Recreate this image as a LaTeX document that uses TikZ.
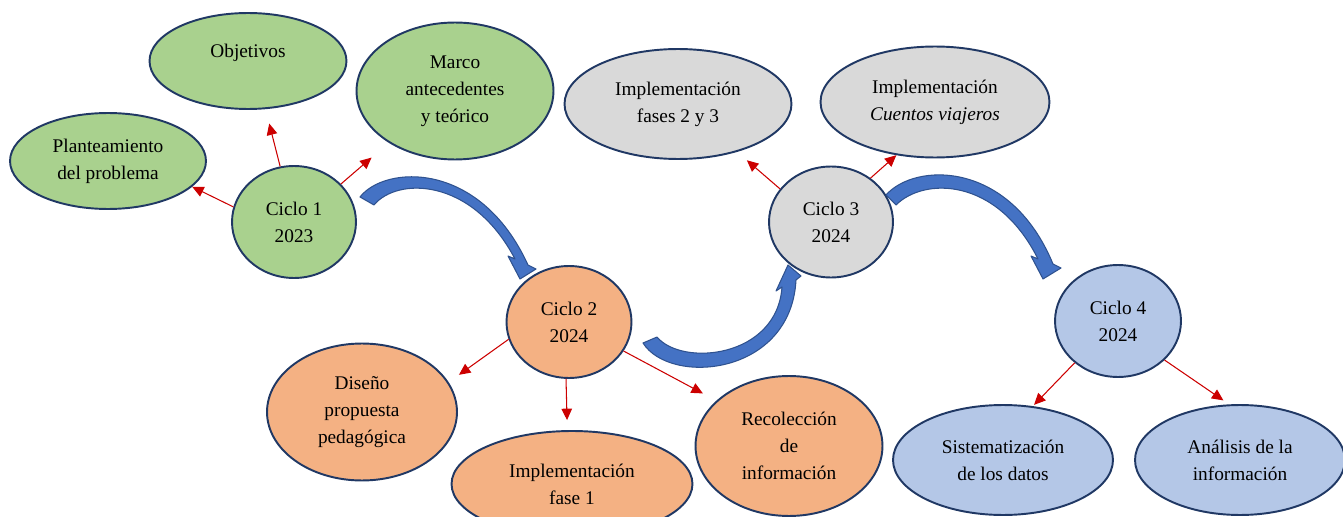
\documentclass[tikz,border=0pt]{standalone}
\usepackage{fontspec}
\setmainfont{Liberation Serif}
\usepackage{tikz}
\usetikzlibrary{arrows.meta,shapes.geometric}

\definecolor{ciclogreen}{HTML}{A9D18E}
\definecolor{cicloorange}{HTML}{F4B183}
\definecolor{ciclogrey}{HTML}{D9D9D9}
\definecolor{cicloblue}{HTML}{B4C7E7}
\definecolor{outline}{HTML}{203864}
\definecolor{arrowred}{HTML}{CC0000}
\definecolor{bendblue}{HTML}{4472C4}
\definecolor{bendedge}{HTML}{2F528F}

\tikzset{
  bubble/.style={ellipse, draw=outline, line width=1.1pt, inner sep=0pt,
    align=center, font=\fontsize{11}{15.3}\selectfont},
  link/.style={draw=arrowred, line width=0.6pt,
    -{Triangle[length=6.5pt,width=6pt]}},
  bendarrow/.style={fill=bendblue, draw=bendedge, line width=0.6pt, line join=round}
}

\begin{document}
\begin{tikzpicture}[x=0.02cm, y=-0.02cm]
\useasboundingbox (0,0) rectangle (1343,517);
%%%%% Ciclo 1 %%%%%
\node[bubble, fill=ciclogreen, minimum width=2.48cm, minimum height=2.24cm] (c1) at (294,222) {Ciclo 1\\2023};
\node[bubble, fill=ciclogreen, minimum width=3.92cm, minimum height=1.92cm] (plan) at (108,161) {Planteamiento\\del problema};
\node[bubble, fill=ciclogreen, minimum width=3.94cm, minimum height=1.92cm] (obj) at (248,61) {};
\node[font=\fontsize{11}{15.3}\selectfont] (objtxt) at (248,53) {Objetivos};
\node[bubble, fill=ciclogreen, minimum width=3.94cm, minimum height=2.74cm] (marco) at (455,91) {Marco\\antecedentes\\y teórico};
\draw[link] (c1.166) -- (plan.343);
\draw[link, shorten >=8.4pt] (c1.104) -- (obj.290);
\draw[link, shorten >=12.9pt] (c1.39) -- (marco.218);

%%%%% Ciclo 2 %%%%%
\node[bubble, fill=cicloorange, minimum width=2.50cm, minimum height=2.24cm] (c2) at (569,322) {Ciclo 2\\2024};
\node[bubble, fill=cicloorange, minimum width=3.80cm, minimum height=2.74cm] (dis) at (362,412) {Diseño\\propuesta\\pedagógica};
\node[bubble, fill=cicloorange, minimum width=4.82cm, minimum height=2.12cm] (imp1) at (572,484) {Implementación\\fase 1};
\node[bubble, fill=cicloorange, minimum width=3.74cm, minimum height=2.80cm] (rec) at (789,446) {Recolección\\de\\información};
\draw[link, shorten >=7.2pt] (c2.196) -- (dis.19);
\draw[link, shorten >=5.7pt] (c2.267) -- (imp1.95);
\draw[link, shorten >=8.7pt] (c2.332) -- (rec.148);

%%%%% Ciclo 3 %%%%%
\node[bubble, fill=ciclogrey, minimum width=2.48cm, minimum height=2.22cm] (c3) at (831,222) {Ciclo 3\\2024};
\node[bubble, fill=ciclogrey, minimum width=4.54cm, minimum height=2.20cm] (f23) at (678,104) {Implementación\\fases 2 y 3};
\node[bubble, fill=ciclogrey, minimum width=4.58cm, minimum height=2.22cm] (cv) at (935,102) {Implementación\\\textit{Cuentos viajeros}};
\draw[link, shorten >=7.3pt] (c3.147) -- (f23.321);
\draw[link] (c3.48) -- (cv.234);

%%%%% Ciclo 4 %%%%%
\node[bubble, fill=cicloblue, minimum width=2.52cm, minimum height=2.24cm] (c4) at (1118,321) {Ciclo 4\\2024};
\node[bubble, fill=cicloblue, minimum width=4.40cm, minimum height=2.20cm] (sis) at (1003,460) {Sistematización\\de los datos};
\node[bubble, fill=cicloblue, minimum width=4.20cm, minimum height=2.20cm] (ana) at (1240,460) {Análisis de la\\información};
\draw[link, shorten >=1pt] (c4.224) -- (sis.61);
\draw[link, shorten >=4pt] (c4.320) -- (ana.101);

%%%%% Curved arrows %%%%%
\draw[bendarrow] (360,197) .. controls (385,165) and (480,160) .. (528,265) -- (536,269) -- (520,279)
  -- (508,256) -- (515,259) .. controls (472,177) and (397,177) .. (374,205) -- cycle;
\draw[bendarrow] (643,343) .. controls (670,386) and (791,376) .. (796,280) -- (801,276) -- (788,265)
  -- (776,291) -- (782,287) .. controls (777,358) and (682,367) .. (657,337) -- cycle;
\draw[bendarrow] (886,195) .. controls (915,162) and (1010,160) .. (1053,264) -- (1061,268) -- (1043,279)
  -- (1031,256) -- (1038,259) .. controls (997,177) and (924,177) .. (896,205) -- cycle;
\end{tikzpicture}
\end{document}
